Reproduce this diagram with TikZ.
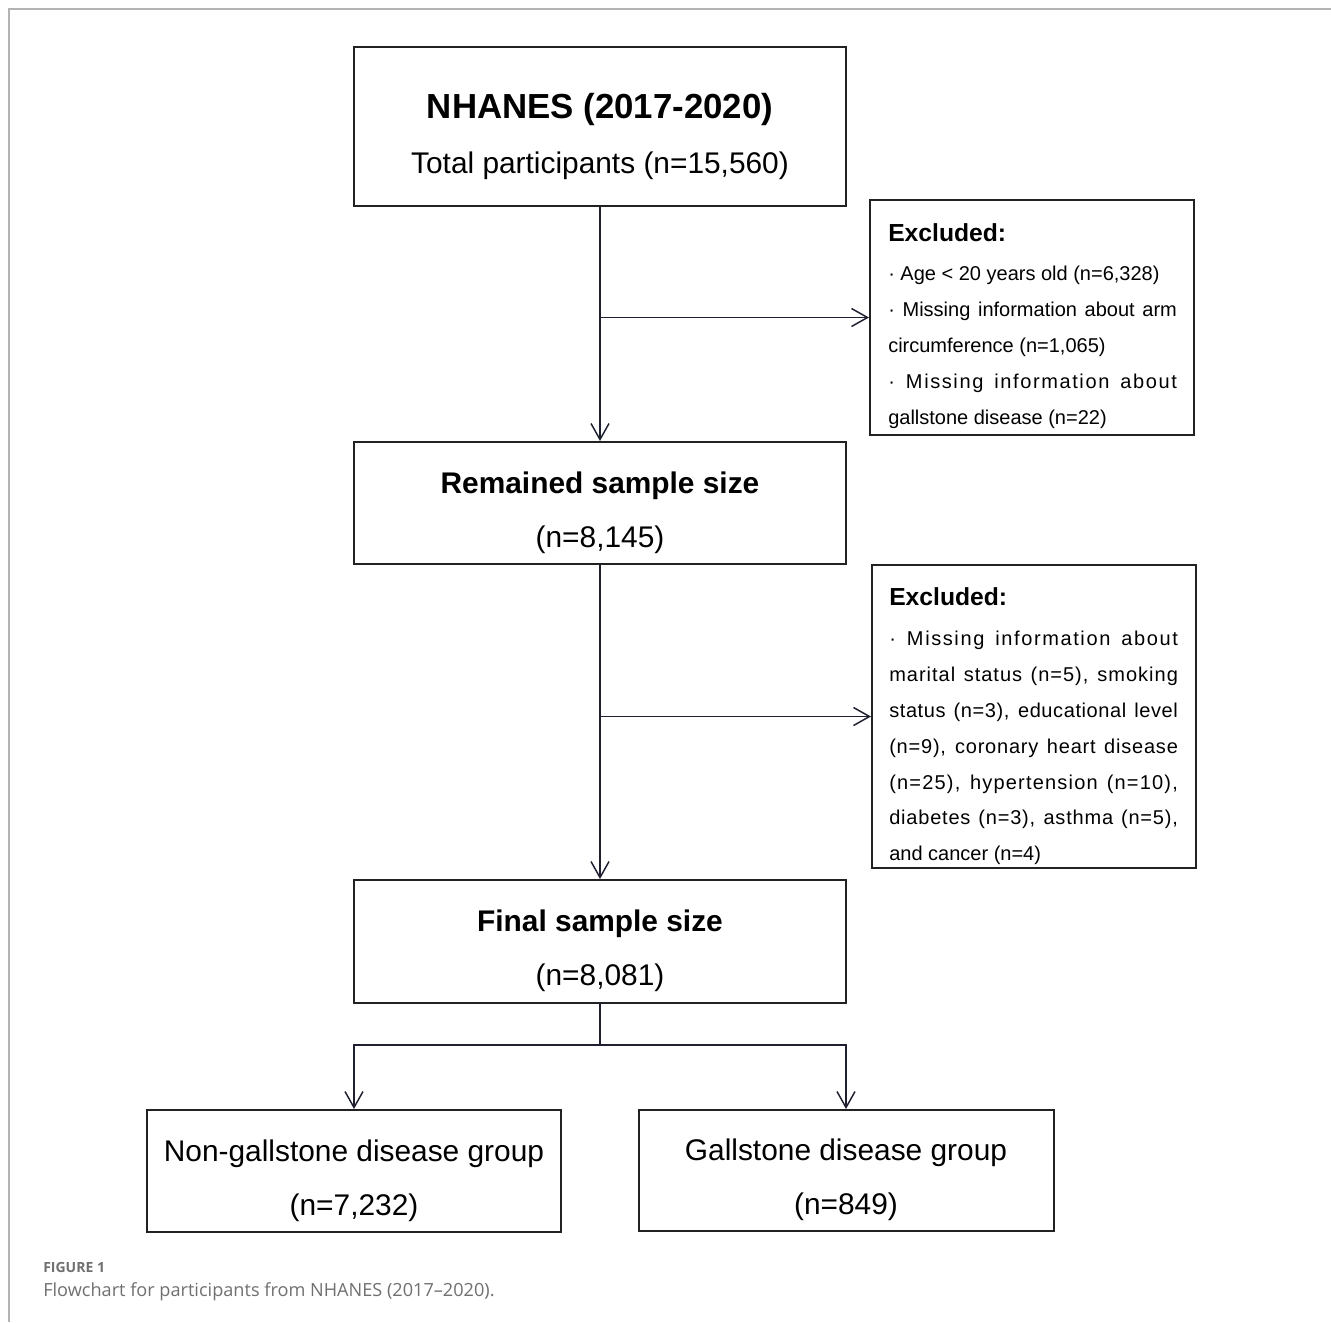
\documentclass[tikz,border=0pt]{standalone}
\usepackage{fontspec}
\setmainfont{Liberation Sans}
\newfontfamily\capfont{Open Sans}
\usetikzlibrary{arrows.meta}
\definecolor{boxline}{HTML}{222222}
\definecolor{arrline}{HTML}{1E2030}
\definecolor{framegray}{HTML}{B3B3B3}
\definecolor{capgray}{HTML}{707070}
\newcommand{\bigtitle}{\fontsize{26.1pt}{30pt}\selectfont\bfseries}
\newcommand{\midtitle}{\fontsize{22.4pt}{26pt}\selectfont\bfseries}
\newcommand{\midtext}{\fontsize{22.4pt}{26pt}\selectfont}
\newcommand{\exhead}{\fontsize{18.5pt}{22pt}\selectfont\bfseries}
\newcommand{\extext}{\fontsize{15pt}{18pt}\selectfont}
\newcommand{\jline}[2][0]{\makebox[216.5pt][s]{\addfontfeature{LetterSpace=#1}#2}}
\begin{document}
\begin{tikzpicture}[x=0.75pt,y=-0.75pt,
  flowbox/.style={draw=boxline,line width=1.5pt,inner sep=0pt,fill=none},
  txt/.style={inner sep=0pt,anchor=base,text=black},
  extxt/.style={inner sep=0pt,anchor=base west,text=black,font=\extext},
  arr/.style={draw=arrline,line width=1.1pt,-{Straight Barb[length=12pt,width=13.5pt,line width=1.1pt]}},
  conn/.style={draw=arrline,line width=1.1pt}]
\useasboundingbox (0,0) rectangle (1331,1322);
\fill[white] (0,0) rectangle (1331,1322);
\draw[framegray,line width=1.5pt] (9,1322) -- (9,9) -- (1331,9);

% main boxes
\node[flowbox,minimum width=369pt,minimum height=119.25pt] (n1) at (600,126.5) {};
\node[flowbox,minimum width=369pt,minimum height=91.5pt] (n2) at (600,503) {};
\node[flowbox,minimum width=369pt,minimum height=92.25pt] (n3) at (600,941.5) {};
\node[flowbox,minimum width=310.5pt,minimum height=91.5pt] (n4) at (354,1171) {};
\node[flowbox,minimum width=311.25pt,minimum height=90.75pt] (n5) at (846,1170.5) {};
% excluded boxes
\node[flowbox,minimum width=243pt,minimum height=176.25pt] (e1) at (1032,317.5) {};
\node[flowbox,minimum width=243pt,minimum height=227.25pt] (e2) at (1034,716.5) {};

% main box texts
\node[txt] (n1a) at (600,118) {\bigtitle NHANES (2017-2020)};
\node[txt] (n1b) at (600,173) {\midtext Total participants (n=15,560)};
\node[txt] (n2a) at (600,493) {\midtitle Remained sample size};
\node[txt] (n2b) at (600,547) {\midtext (n=8,145)};
\node[txt] (n3a) at (600,931) {\midtitle Final sample size};
\node[txt] (n3b) at (600,985) {\midtext (n=8,081)};
\node[txt] (n4a) at (354,1161) {\midtext Non-gallstone disease group};
\node[txt] (n4b) at (354,1215) {\midtext (n=7,232)};
\node[txt] (n5a) at (846,1160) {\midtext Gallstone disease group};
\node[txt] (n5b) at (846,1214) {\midtext (n=849)};

% excluded 1 text
\node[extxt] (e1h) at (888,241) {\exhead Excluded:};
\node[extxt] (e1l1) at (888,280) {· Age < 20 years old (n=6,328)};
\node[extxt] (e1l2) at (888,316) {\jline{· Missing information about arm}};
\node[extxt] (e1l3) at (888,352) {circumference (n=1,065)};
\node[extxt] (e1l4) at (888,388) {\jline[8]{· Missing information about}};
\node[extxt] (e1l5) at (888,424) {gallstone disease (n=22)};

% excluded 2 text
\node[extxt] (e2h) at (889,605) {\exhead Excluded:};
\node[extxt] (e2l1) at (889,645) {\jline[8]{· Missing information about}};
\node[extxt] (e2l2) at (889,681) {\jline[5]{marital status (n=5), smoking}};
\node[extxt] (e2l3) at (889,717) {\jline[3]{status (n=3), educational level}};
\node[extxt] (e2l4) at (889,753) {\jline[4]{(n=9), coronary heart disease}};
\node[extxt] (e2l5) at (889,789) {\jline[6]{(n=25), hypertension (n=10),}};
\node[extxt] (e2l6) at (889,824) {\jline[4]{diabetes (n=3), asthma (n=5),}};
\node[extxt] (e2l7) at (889,860) {and cancer (n=4)};

% connectors
\coordinate (b1) at (n1.south |- e1.west);
\coordinate (b2) at (n2.south |- e2.west);
\coordinate (split) at (600,1045);
\draw[arr] (n1) -- (n2);
\draw[arr] (b1) -- (e1);
\draw[arr] (n2) -- (n3);
\draw[arr] (b2) -- (e2);
\draw[conn] (n3) -- (split);
\draw[arr] (split) -| (n4);
\draw[arr] (split) -| (n5);

% caption
\node[inner sep=0pt,anchor=base west,text=capgray] (figlabel) at (43,1272) {\capfont\fontsize{10.5pt}{12pt}\selectfont\bfseries FIGURE 1};
\node[inner sep=0pt,anchor=base west,text=capgray] (figcap) at (43,1296) {\capfont\fontsize{13.6pt}{16pt}\selectfont Flowchart for participants from NHANES (2017–2020).};
\end{tikzpicture}
\end{document}
